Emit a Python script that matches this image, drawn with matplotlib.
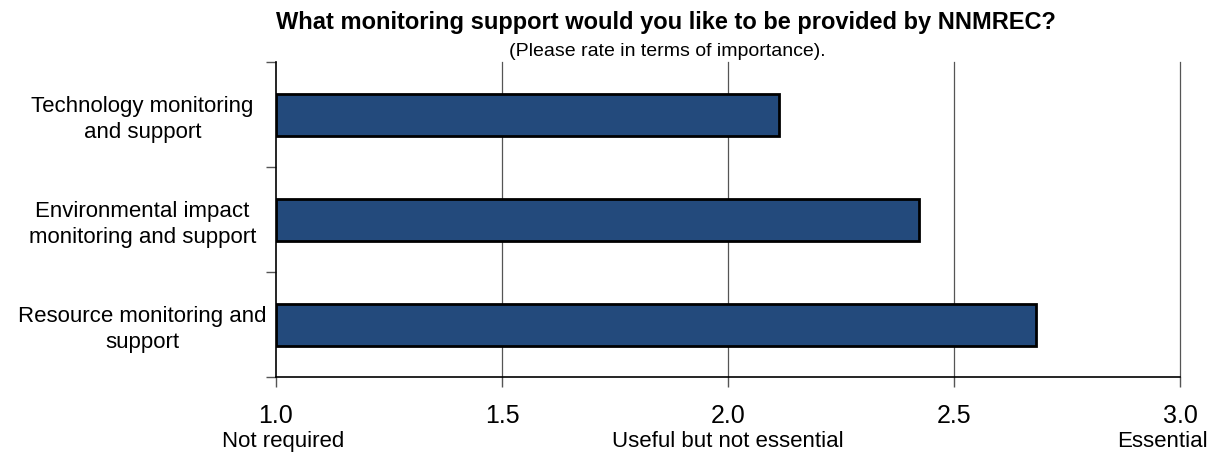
import matplotlib
matplotlib.use("Agg")
import matplotlib.pyplot as plt
import numpy as np

plt.rcParams['font.family'] = ['Liberation Sans', 'DejaVu Sans']

# survey answers (mean rating, 1 = not required ... 3 = essential)
categories = ["Technology monitoring\nand support",
              "Environmental impact\nmonitoring and support",
              "Resource monitoring and\nsupport"]
scores = [2.113, 2.423, 2.682]
x_ticks = [1.0, 1.5, 2.0, 2.5, 3.0]
x_numbers = ["1.0", "1.5", "2.0", "2.5", "3.0"]
x_words = ["Not required", "", "Useful but not essential", "", "Essential"]

W, H = 1214, 455
fig = plt.figure(figsize=(W / 100, H / 100), dpi=100)
ax = fig.add_axes([276 / W, 1 - 377 / H, (1180 - 276) / W, (377 - 62) / H])

y = np.arange(len(categories))
ax.barh(y, np.array(scores) - 1.0, left=1.0, height=0.4,
        color="#234a7c", edgecolor="black", linewidth=2, zorder=3)

ax.set_xlim(1.0, 3.0)
ax.set_ylim(len(categories) - 0.5, -0.5)

# vertical grid lines
for xv in x_ticks[1:]:
    ax.axvline(xv, color="#555555", linewidth=0.9, zorder=1, clip_on=False)

ax.set_xticks(x_ticks)
ax.set_xticklabels(["" for _ in x_ticks])
ax.tick_params(axis="x", direction="out", length=7, width=1, color="#555555")
xtr = ax.get_xaxis_transform()
for xv, num, word in zip(x_ticks, x_numbers, x_words):
    ax.text(xv, -46 / 315, num, transform=xtr, ha="center", va="baseline", fontsize=18)
    if word == "Essential":
        ax.text(1.0 + 28 / 904, -70 / 315, word, transform=ax.transAxes,
                ha="right", va="baseline", fontsize=16)
    elif word == "Not required":
        ax.text(7 / 904, -70 / 315, word, transform=ax.transAxes,
                ha="center", va="baseline", fontsize=16)
    elif word:
        ax.text(xv, -70 / 315, word, transform=xtr, ha="center", va="baseline", fontsize=16)

# category boundaries carry the y ticks, labels sit between them
ax.set_yticks(np.arange(-0.5, len(categories), 1.0))
ax.set_yticklabels([])
ax.set_yticks(y, minor=True)
ax.set_yticklabels(categories, minor=True, fontsize=16, ha="center", linespacing=1.3)
ax.tick_params(axis="y", which="minor", length=0, pad=96)
ax.tick_params(axis="y", which="major", direction="out", length=7, width=1, color="#555555")

ax.spines["top"].set_visible(False)
ax.spines["right"].set_visible(False)
ax.spines["left"].set_linewidth(1.2)
ax.spines["bottom"].set_linewidth(1.2)

fig.text(666 / W, 1 - 29 / H, "What monitoring support would you like to be provided by NNMREC?",
         ha="center", va="baseline", fontsize=17, fontweight="bold")
fig.text(667 / W, 1 - 56 / H, "(Please rate in terms of importance).",
         ha="center", va="baseline", fontsize=14)

fig.savefig("out.png", dpi=100)
